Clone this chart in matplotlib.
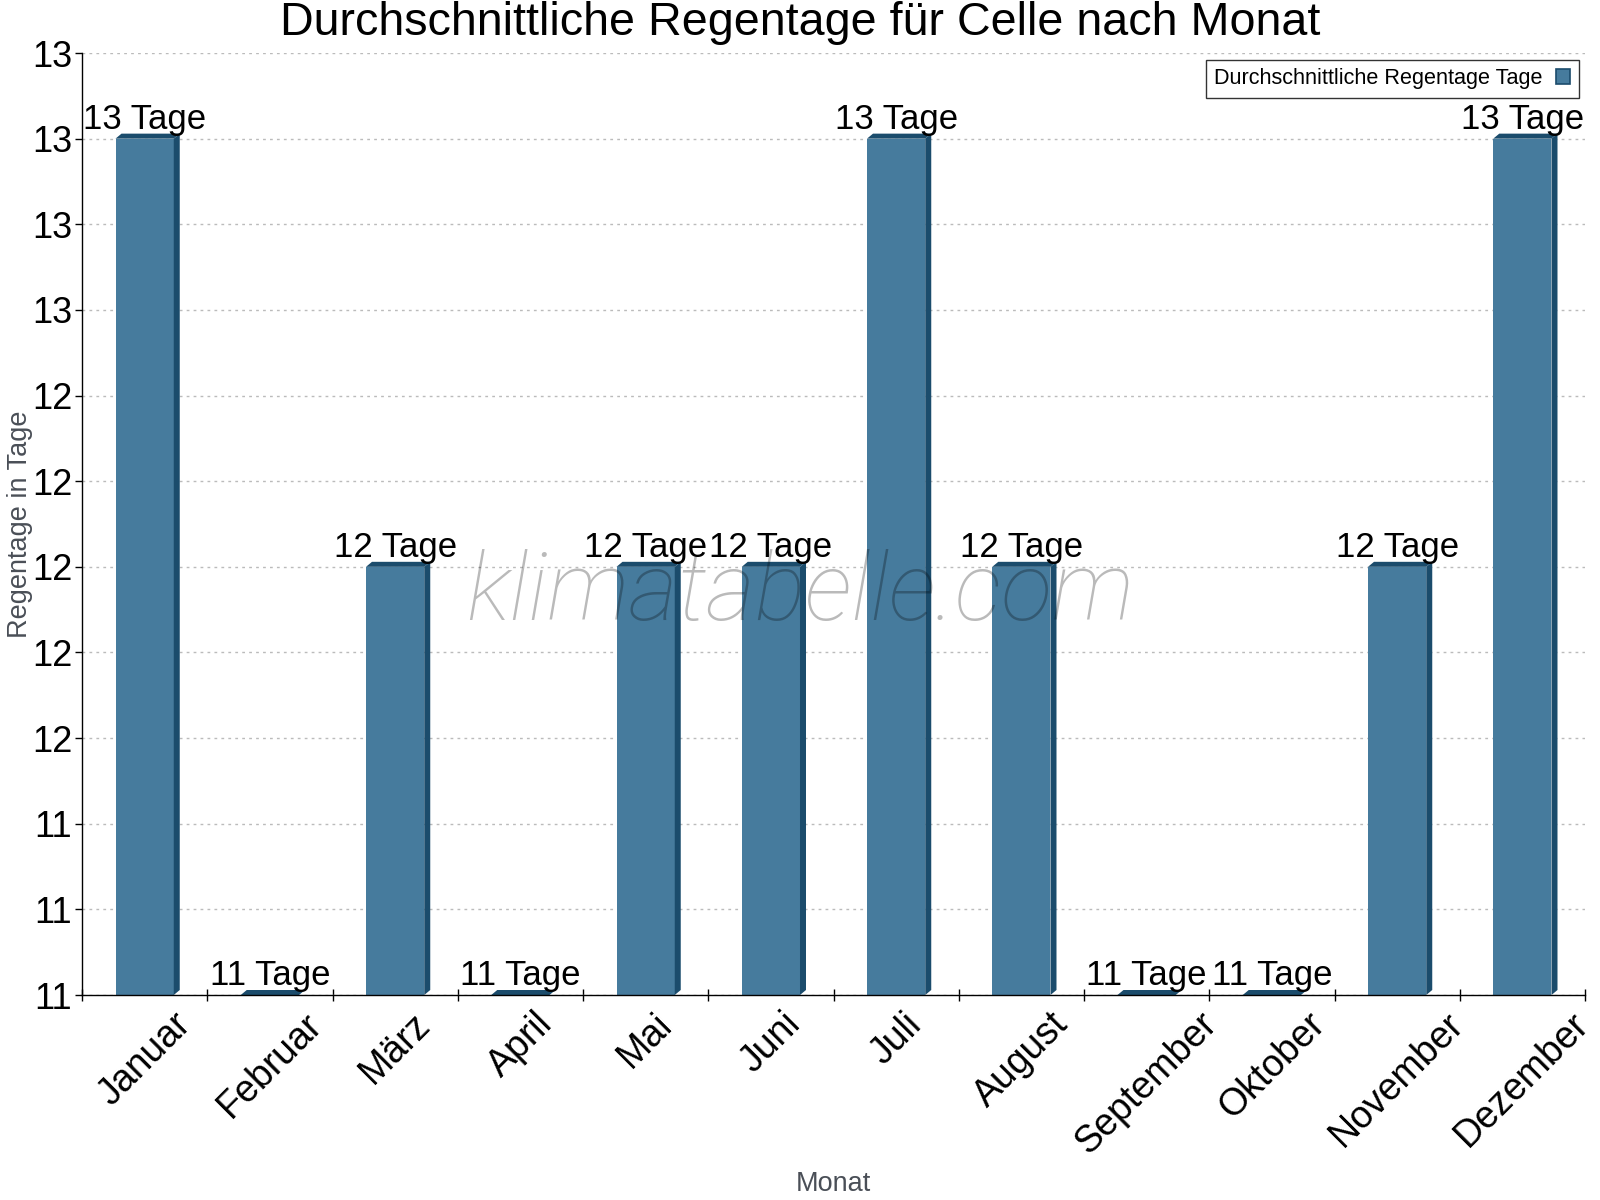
import matplotlib
matplotlib.use("Agg")
import matplotlib.pyplot as plt
from matplotlib.patches import Polygon, Rectangle
import numpy as np

months = ["Januar", "Februar", "März", "April", "Mai", "Juni", "Juli",
          "August", "September", "Oktober", "November", "Dezember"]
rain_days = [13, 11, 12, 11, 12, 12, 13, 12, 11, 11, 12, 13]
y_ticks = [11.0, 11.2, 11.4, 11.6, 11.8, 12.0, 12.2, 12.4, 12.6, 12.8, 13.0, 13.2]
y_tick_labels = [f"{t:.0f}" for t in y_ticks]

title = "Durchschnittliche Regentage für Celle nach Monat"
legend_label = "Durchschnittliche Regentage Tage"
x_label = "Monat"
y_label = "Regentage in Tage"
watermark = "klimatabelle.com"

FRONT = "#467b9d"
DARK = "#1b4c6c"

plt.rcParams['font.family'] = ['Liberation Sans', 'DejaVu Sans']

fig = plt.figure(figsize=(16, 12), dpi=100)
ax = fig.add_axes([82/1600, 1-995/1200, (1585-82)/1600, (995-53)/1200])

x = np.arange(len(months))
bar_w = 0.465
ax.set_xlim(-0.5, len(months) - 0.5)
ax.set_ylim(y_ticks[0], y_ticks[-1])

bars = ax.bar(x, [v - y_ticks[0] for v in rain_days], bottom=y_ticks[0],
              width=bar_w, color=FRONT, zorder=3, label=legend_label)

# pixel -> data conversion for 3D effect
fig.canvas.draw()
inv = ax.transData.inverted()
p0 = inv.transform((0, 0))
p1 = inv.transform((6, 5))
dx = p1[0] - p0[0]
dy = p1[1] - p0[1]

for xi, v in zip(x, rain_days):
    xl = xi - bar_w / 2
    xr = xi + bar_w / 2
    b = y_ticks[0]
    side = Polygon([(xr, b), (xr + dx, b + dy), (xr + dx, v + dy), (xr, v)],
                   closed=True, facecolor=DARK, edgecolor='none', zorder=3,
                   clip_on=False)
    top = Polygon([(xl, v), (xl + dx, v + dy), (xr + dx, v + dy), (xr, v)],
                  closed=True, facecolor=DARK, edgecolor='none', zorder=3,
                  clip_on=False)
    ax.add_patch(side)
    ax.add_patch(top)
    ax.annotate(f"{v} Tage", xy=(xi, v + dy), xytext=(0, 5),
                textcoords='offset pixels', ha='center', va='baseline',
                fontsize=25, color='black', zorder=5)

ax.set_yticks(y_ticks)
ax.set_yticklabels(y_tick_labels, fontsize=26)
ax.set_xticks(x)
ax.set_xticklabels(months, fontsize=27, rotation=45, ha='center')
ax.set_xticks(np.arange(-0.5, len(months), 1), minor=True)
ax.tick_params(axis='x', which='major', length=0, pad=8)
ax.tick_params(axis='x', which='minor', length=8, direction='inout', width=1)
ax.tick_params(axis='y', length=5, width=1, pad=2)

ax.grid(axis='y', linestyle=(0, (2, 3)), color='#bbbbbb', linewidth=1, zorder=0)
ax.set_axisbelow(True)

ax.spines['top'].set_visible(False)
ax.spines['right'].set_visible(False)
ax.spines['left'].set_linewidth(1)
ax.spines['bottom'].set_linewidth(1)
ax.spines['bottom'].set_zorder(4)

fig.text(833/1600, 1 - 1184/1200, x_label, fontsize=19.5, color='#4a4f57',
         ha='center', va='center')
fig.text(20/1600, 1 - 524/1200, y_label, fontsize=19.5, color='#4a4f57',
         ha='center', va='center', rotation=90)

fig.text(0.5, 1 - 23/1200, title, fontsize=33.6, ha='center', va='center')

handle = Rectangle((0, 0), 1, 1, facecolor=FRONT, edgecolor=DARK, linewidth=1.2)
leg = ax.legend([handle], [legend_label], loc='upper right', fontsize=15.6,
                markerfirst=False, frameon=True, fancybox=False, shadow=False,
                borderaxespad=0.3, handlelength=0.65, handleheight=0.65,
                handletextpad=0.6, borderpad=0.4)
leg.get_frame().set_edgecolor('black')
leg.get_frame().set_linewidth(1)
leg.set_zorder(6)

fig.text(0.5, 1 - 594/1200, watermark, fontsize=68, fontstyle='italic',
         fontweight='light', family=['Roboto', 'DejaVu Sans'],
         color='black', alpha=0.27, ha='center', va='center', zorder=10)

fig.savefig("out.png", dpi=100)
